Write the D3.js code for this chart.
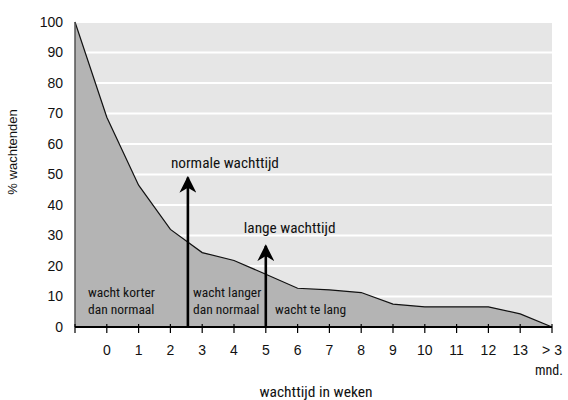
<!DOCTYPE html>
<html>
<head>
<meta charset="utf-8">
<script src="https://cdn.jsdelivr.net/npm/d3@7"></script>
<style>
  body { margin: 0; background: #fff; }
  svg text { font-family: "Liberation Sans", Arial, sans-serif; fill: #111; }
  .note { font-family: "Liberation Sans Narrow", "Roboto Condensed", "Liberation Sans", sans-serif; }
</style>
</head>
<body>
<div class="chart"></div>
<script>
var values = { width: 568, height: 400 };
var margin = { left: 75, right: 16, top: 22, bottom: 73 };

// x categories: first point is the start of the axis (no label)
var categories = ["", "0", "1", "2", "3", "4", "5", "6", "7", "8", "9", "10", "11", "12", "13", "> 3"];
var percentages = [100, 68.8, 46.5, 32, 24.4, 21.8, 17.3, 12.7, 12.2, 11.3, 7.5, 6.6, 6.6, 6.6, 4.3, 0];
var yTicks = [0, 10, 20, 30, 40, 50, 60, 70, 80, 90, 100];

// arrows: position on category index, height of tip
var arrows = [
  { pos: 3.55, tip: 49, label: "normale wachttijd", dx: -17, labelBase: 168 },
  { pos: 6, tip: 26.6, label: "lange wachttijd", dx: -22, labelBase: 233 }
];

var w = values.width - margin.left - margin.right;
var h = values.height - margin.top - margin.bottom;

var x = d3.scaleLinear().domain([0, categories.length - 1]).range([0, w]);
var y = d3.scaleLinear().domain([0, 100]).range([h, 0]);

var svg = d3.select('.chart')
  .append('svg')
  .attr('width', values.width)
  .attr('height', values.height)
  .append('g')
  .attr('transform', 'translate(' + margin.left + ',' + margin.top + ')');

// background
svg.append('rect')
  .attr('width', w).attr('height', h)
  .attr('fill', '#e6e6e6');

// horizontal grid lines
svg.selectAll('.grid')
  .data(yTicks.slice(1))
  .enter()
  .append('line')
  .attr('x1', 0).attr('x2', w)
  .attr('y1', d => y(d)).attr('y2', d => y(d))
  .attr('stroke', '#fff')
  .attr('stroke-width', 2);

// area under the curve
var area = d3.area()
  .x((d, i) => x(i))
  .y0(h)
  .y1(d => y(d));

svg.append('path')
  .datum(percentages)
  .attr('d', area)
  .attr('fill', '#b4b4b4');

var line = d3.line()
  .x((d, i) => x(i))
  .y(d => y(d));

svg.append('path')
  .datum(percentages)
  .attr('d', line)
  .attr('fill', 'none')
  .attr('stroke', '#111')
  .attr('stroke-width', 1.2);

// left edge of the area
svg.append('line')
  .attr('x1', 0).attr('x2', 0)
  .attr('y1', y(100)).attr('y2', h)
  .attr('stroke', '#555')
  .attr('stroke-width', 1.5);

// y axis labels
svg.selectAll('.ylab')
  .data(yTicks)
  .enter()
  .append('text')
  .attr('x', -12)
  .attr('y', d => y(d))
  .attr('dy', '0.35em')
  .attr('text-anchor', 'end')
  .style('font-size', '14px')
  .text(d => d);

svg.append('text')
  .attr('transform', 'translate(' + (-58) + ',' + 130 + ') rotate(-90)')
  .attr('text-anchor', 'middle')
  .style('font-size', '13px')
  .text('% wachtenden');

// x axis
svg.append('line')
  .attr('x1', 0).attr('x2', w)
  .attr('y1', h).attr('y2', h)
  .attr('stroke', '#000')
  .attr('stroke-width', 2);

svg.selectAll('.xtick')
  .data(categories)
  .enter()
  .append('line')
  .attr('x1', (d, i) => x(i)).attr('x2', (d, i) => x(i))
  .attr('y1', h - 3).attr('y2', h + 6)
  .attr('stroke', '#000')
  .attr('stroke-width', 1.2);

svg.selectAll('.xlab')
  .data(categories)
  .enter()
  .append('text')
  .attr('x', (d, i) => x(i))
  .attr('y', 355 - margin.top)
  .attr('text-anchor', 'middle')
  .style('font-size', '14px')
  .text(d => d);

svg.append('text')
  .attr('x', 563 - margin.left)
  .attr('y', 375 - margin.top)
  .attr('text-anchor', 'end')
  .attr('class', 'note')
  .style('font-size', '14px')
  .text('mnd.');

svg.append('text')
  .attr('x', 316 - margin.left)
  .attr('y', 397 - margin.top)
  .attr('text-anchor', 'middle')
  .attr('class', 'note')
  .style('font-size', '15.5px')
  .text('wachttijd in weken');

// arrows
var defs = svg.append('defs');
defs.append('marker')
  .attr('id', 'head')
  .attr('viewBox', '0 0 10 10')
  .attr('refX', 9).attr('refY', 5)
  .attr('markerWidth', 6.5).attr('markerHeight', 6.5)
  .attr('markerUnits', 'strokeWidth')
  .attr('orient', 'auto')
  .append('path')
  .attr('d', 'M0,0 L10,5 L0,10 L3,5 Z')
  .attr('fill', '#000');

svg.selectAll('.arrow')
  .data(arrows)
  .enter()
  .append('line')
  .attr('x1', d => x(d.pos)).attr('x2', d => x(d.pos))
  .attr('y1', h).attr('y2', d => y(d.tip))
  .attr('stroke', '#000')
  .attr('stroke-width', 2.6)
  .attr('marker-end', 'url(#head)');

svg.selectAll('.arrowlab')
  .data(arrows)
  .enter()
  .append('text')
  .attr('class', 'note')
  .attr('x', d => x(d.pos) + d.dx)
  .attr('y', d => d.labelBase - margin.top)
  .style('font-size', '15.3px')
  .text(d => d.label);

// region labels
var regions = [
  { x: 88, lines: ["wacht korter", "dan normaal"] },
  { x: 193, lines: ["wacht langer", "dan normaal"] },
  { x: 275, lines: ["wacht te lang"] }
];
regions.forEach(r => {
  var start = r.lines.length === 1 ? 1 : 0;
  r.lines.forEach((t, i) => {
    svg.append('text')
      .attr('class', 'note')
      .attr('x', r.x - margin.left)
      .attr('y', 297 - margin.top + (start + i) * 17)
      .style('font-size', '13.5px')
      .text(t);
  });
});
</script>
</body>
</html>
